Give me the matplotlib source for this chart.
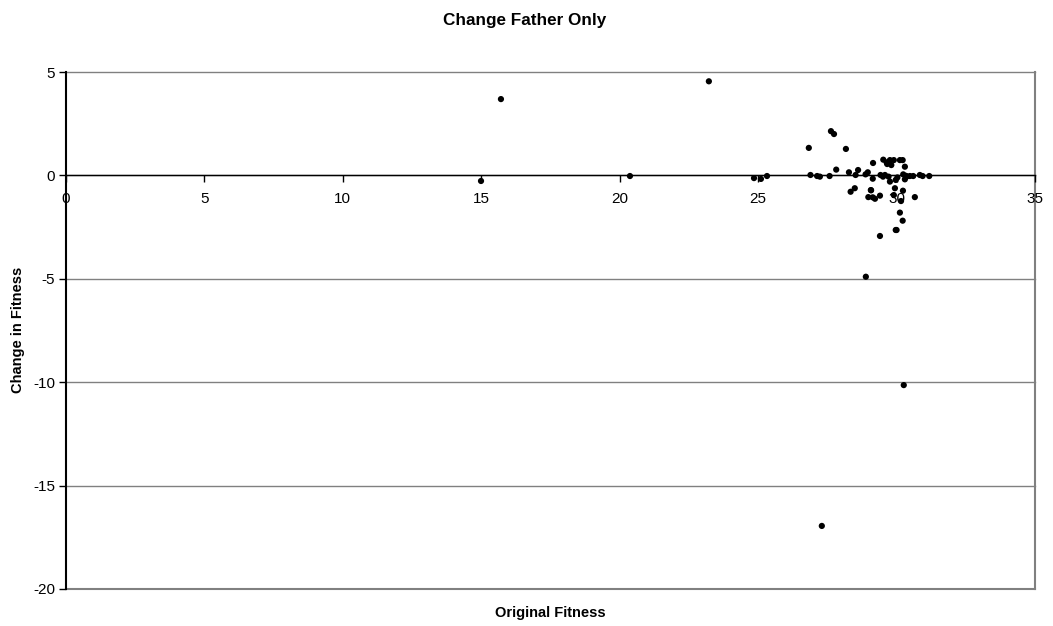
import matplotlib
matplotlib.use("Agg")
import matplotlib.pyplot as plt

plt.rcParams['font.family'] = ['Liberation Sans', 'DejaVu Sans']

# Original fitness vs. change in fitness after swapping only the father
original_fitness = [
    14.99, 15.71, 20.37, 23.22, 24.85, 25.10, 25.32,
    26.83, 27.63, 27.74, 28.17, 28.89, 27.30, 30.26, 29.40, 29.97,
    26.89, 27.13, 27.23, 27.58, 27.82, 28.28, 28.34, 28.49, 28.52, 28.61,
    28.88, 28.96, 29.08, 29.14, 29.22, 29.15, 29.14, 29.40, 29.42, 29.51,
    29.52, 29.64, 29.58, 29.76, 29.76, 29.81, 29.90, 29.97, 30.12, 30.22,
    30.30, 29.94, 30.24, 30.30, 30.36, 30.48, 30.60, 30.84, 30.94, 31.18,
    30.16, 30.23, 30.66, 30.12, 30.22, 30.00, 29.07, 29.71, 29.66,
    28.98, 29.90, 30.34, 30.03,
]
change_in_fitness = [
    -0.27, 3.69, -0.03, 4.55, -0.13, -0.17, -0.03,
    1.33, 2.14, 2.00, 1.28, -4.90, -16.95, -10.14, -2.93, -2.64,
    0.02, -0.03, -0.06, -0.03, 0.28, 0.15, -0.79, -0.62, 0.02, 0.26,
    0.05, 0.15, -0.72, -1.06, -1.13, 0.60, -0.16, -0.98, 0.02, -0.06,
    0.76, 0.63, 0.02, 0.74, -0.30, 0.50, 0.74, -0.22, 0.74, 0.74,
    0.42, -0.62, 0.05, -0.19, -0.06, -0.03, -0.03, 0.02, -0.03, -0.03,
    -1.24, -0.74, -1.05, -1.80, -2.19, -2.64, -0.71, -0.06, 0.55,
    -1.05, -0.95, -0.02, -0.10,
]

x_ticks = [0, 5, 10, 15, 20, 25, 30, 35]
y_ticks = [5, 0, -5, -10, -15, -20]

fig = plt.figure(figsize=(10.53, 6.26), dpi=100)
ax = fig.add_axes([66 / 1053, 1 - 589 / 626, (1035 - 66) / 1053, (589 - 72) / 626])

grid_color = '#808080'
for yv in y_ticks:
    ax.axhline(yv, color=grid_color, lw=1.0 if yv != -20 else 1.5,
               zorder=1, clip_on=False)
ax.axvline(35, color=grid_color, lw=1.5, zorder=1, clip_on=False)

ax.scatter(original_fitness, change_in_fitness, s=20, color='black',
           edgecolors='none', zorder=3, clip_on=False)

ax.set_xlim(0, 35)
ax.set_ylim(-20, 5)
ax.set_xticks(x_ticks)
ax.set_yticks(y_ticks)
ax.set_xticklabels([str(v) for v in x_ticks])
ax.set_yticklabels([str(v) for v in y_ticks])

for side in ('top', 'right'):
    ax.spines[side].set_visible(False)
ax.spines['bottom'].set_position(('data', 0))
ax.spines['bottom'].set_color('black')
ax.spines['bottom'].set_linewidth(1.0)
ax.spines['bottom'].set_zorder(2)
ax.spines['left'].set_color('black')
ax.spines['left'].set_linewidth(1.5)

ax.tick_params(axis='x', direction='out', length=5, width=1, labelsize=11,
               pad=7, colors='black')
ax.tick_params(axis='y', direction='out', length=5, width=1, labelsize=11,
               pad=3, colors='black')

fig.text(525 / 1053, 1 - 20 / 626, 'Change Father Only', ha='center',
         va='center', fontsize=12.3, fontweight='bold')
fig.text(550 / 1053, 1 - 613 / 626, 'Original Fitness', ha='center',
         va='center', fontsize=10.5, fontweight='bold')
fig.text(18 / 1053, 1 - 330 / 626, 'Change in Fitness', ha='center',
         va='center', rotation=90, fontsize=10.5, fontweight='bold')

fig.savefig('out.png', dpi=100, facecolor='white')
